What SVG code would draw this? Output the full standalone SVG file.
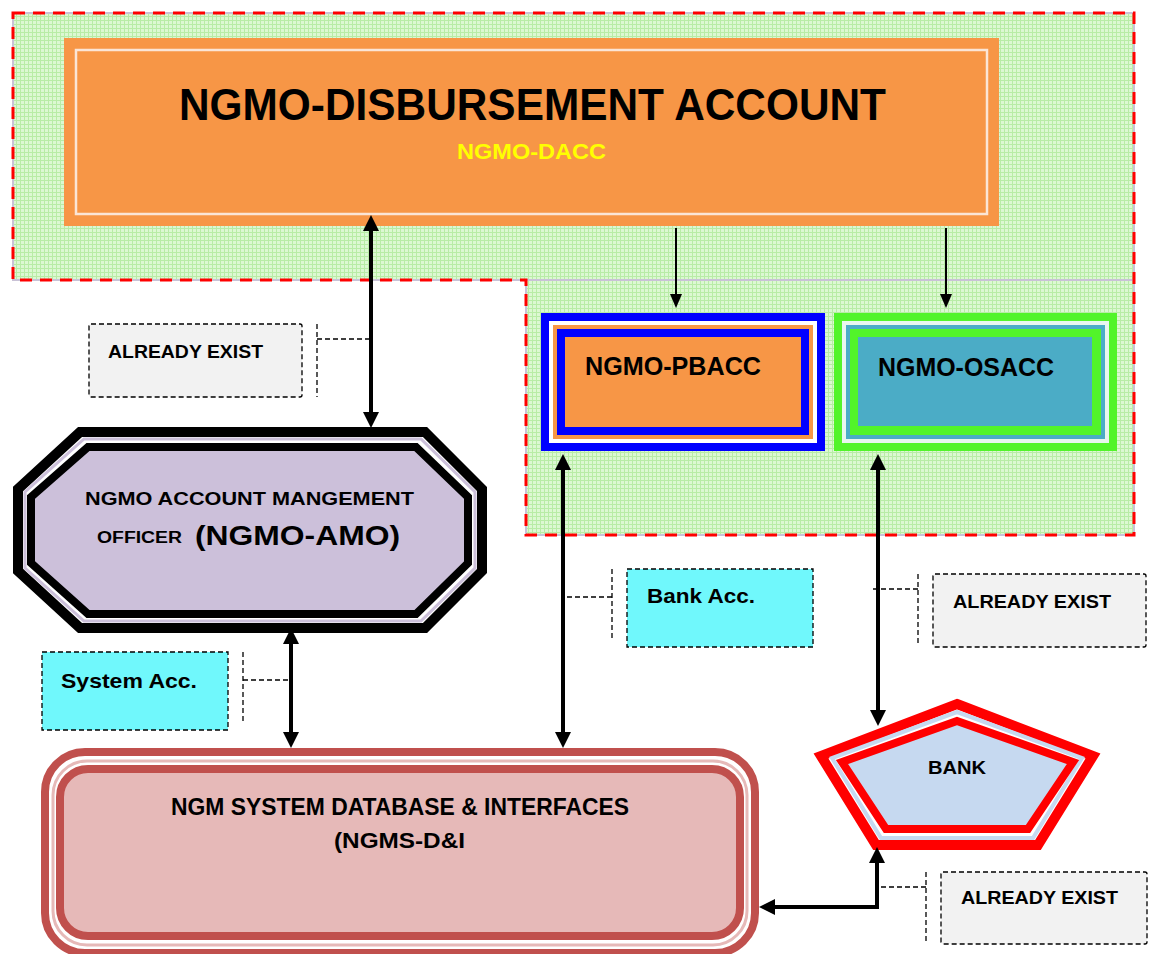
<svg xmlns="http://www.w3.org/2000/svg" width="1149" height="954" viewBox="0 0 1149 954">
<defs>
<pattern id="grid" width="4" height="4" patternUnits="userSpaceOnUse">
<rect width="4" height="4" fill="#dcf8d2"/>
<rect width="4" height="1" fill="#b8eca6"/>
<rect width="1" height="4" fill="#b8eca6"/>
</pattern>
<marker id="ah" viewBox="0 0 16 16" refX="8" refY="8" markerWidth="16" markerHeight="16" markerUnits="userSpaceOnUse" orient="auto-start-reverse"><path d="M0,0 L16,8 L0,16 Z" fill="#000"/></marker>
<marker id="ahs" viewBox="0 0 14 12" refX="7" refY="6" markerWidth="14" markerHeight="12" markerUnits="userSpaceOnUse" orient="auto-start-reverse"><path d="M0,0 L14,6 L0,12 Z" fill="#000"/></marker>
</defs>
<style>
text{font-family:"Liberation Sans",Arial,sans-serif;font-weight:bold;fill:#000}
.call{stroke:#000;stroke-width:1.3;stroke-dasharray:5 3}
.bk{stroke:#000;fill:none}
.thick{stroke-width:4}
.thin{stroke-width:2}
</style>
<rect width="1149" height="954" fill="#fff"/>

<g id="zone">
<path d="M13,13 H1134 V535 H526 V280 H13 Z" fill="url(#grid)" stroke="#c9c2d6" stroke-width="2"/>
<line x1="526" y1="280" x2="1134" y2="280" stroke="#c9c2d6" stroke-width="2"/>
<path d="M13,13 H1134 V535 H526 V280 H13 Z" fill="none" stroke="#ff0000" stroke-width="3" stroke-dasharray="12 8"/>
</g>

<g id="dacc">
<rect x="64" y="38" width="935" height="188" fill="#f79646"/>
<rect x="76" y="50" width="911" height="164" fill="#f79646" stroke="#fbe5d6" stroke-width="2.5"/>
<text x="179" y="120" font-size="44" textLength="707" lengthAdjust="spacingAndGlyphs">NGMO-DISBURSEMENT ACCOUNT</text>
<text x="457" y="159" font-size="22" textLength="149" lengthAdjust="spacingAndGlyphs" style="fill:#ffff00">NGMO-DACC</text>
</g>

<g id="pbacc">
<rect x="541" y="313" width="284" height="138" fill="#0000ff"/>
<rect x="549" y="321" width="268" height="122" fill="#fff"/>
<rect x="553" y="325" width="260" height="114" fill="#f79646"/>
<rect x="557" y="329" width="252" height="106" fill="#0000ff"/>
<rect x="565" y="337" width="236" height="90" fill="#f79646"/>
<text x="585" y="375" font-size="25" textLength="176" lengthAdjust="spacingAndGlyphs">NGMO-PBACC</text>
</g>

<g id="osacc">
<rect x="834" y="313" width="283" height="138" fill="#52f42a"/>
<rect x="842" y="321" width="267" height="122" fill="#e8f6ee"/>
<rect x="846" y="325" width="259" height="114" fill="#4bacc6"/>
<rect x="850" y="329" width="251" height="106" fill="#52f42a"/>
<rect x="858" y="337" width="234" height="89" fill="#4bacc6"/>
<text x="878" y="376" font-size="25" textLength="176" lengthAdjust="spacingAndGlyphs">NGMO-OSACC</text>
</g>

<g id="amo">
<polygon points="80,432 425,432 482,489 482,571 425,628 80,628 18,571 18,489" fill="#fff" stroke="#000" stroke-width="10"/>
<polygon points="84,439 421,439 475,492 475,568 421,621 84,621 25,568 25,492" fill="none" stroke="#ccc0da" stroke-width="3"/>
<polygon points="88,447 416,447 468,497 468,563 416,614 88,614 31,563 31,497" fill="#ccc0da" stroke="#000" stroke-width="8"/>
<text x="85" y="505" font-size="18" textLength="329" lengthAdjust="spacingAndGlyphs">NGMO ACCOUNT MANGEMENT</text>
<text x="97" y="543" font-size="16" textLength="85" lengthAdjust="spacingAndGlyphs">OFFICER</text>
<text x="195" y="545" font-size="27" textLength="205" lengthAdjust="spacingAndGlyphs">(NGMO-AMO)</text>
</g>

<g id="ngms">
<rect x="45" y="752" width="710" height="201" rx="40" fill="#fff" stroke="#c0504d" stroke-width="8"/>
<rect x="53" y="761" width="694" height="184" rx="34" fill="none" stroke="#e6b9b8" stroke-width="3"/>
<rect x="60" y="769" width="680" height="167" rx="28" fill="#e6b9b8" stroke="#c0504d" stroke-width="8"/>
<text x="171" y="815" font-size="23" textLength="458" lengthAdjust="spacingAndGlyphs">NGM SYSTEM DATABASE &amp; INTERFACES</text>
<text x="334" y="848" font-size="22" textLength="131" lengthAdjust="spacingAndGlyphs">(NGMS-D&amp;I</text>
</g>

<g id="bank">
<polygon points="957,704 1093,756 1038,845 876,845 821,756" fill="#fff" stroke="#ff0000" stroke-width="10"/>
<polygon points="957,712 1082,758 1033,838 881,838 832,758" fill="none" stroke="#c6d9f0" stroke-width="4"/>
<polygon points="957,721 1073,762 1028,829 886,829 842,762" fill="#c6d9f0" stroke="#ff0000" stroke-width="8"/>
<text x="928" y="774" font-size="19" textLength="58" lengthAdjust="spacingAndGlyphs">BANK</text>
</g>

<g id="callout-exist-1">
<rect x="89" y="324" width="213" height="73" rx="2" fill="#f2f2f2" class="call"/>
<text x="108" y="358" font-size="18" textLength="155" lengthAdjust="spacingAndGlyphs">ALREADY EXIST</text>
</g>
<g id="callout-bank-acc">
<rect x="627" y="569" width="186" height="78" fill="#70f8fc" class="call"/>
<text x="647" y="603" font-size="20" textLength="108" lengthAdjust="spacingAndGlyphs">Bank Acc.</text>
</g>
<g id="callout-exist-2">
<rect x="933" y="574" width="213" height="73" rx="2" fill="#f2f2f2" class="call"/>
<text x="953" y="608" font-size="18" textLength="158" lengthAdjust="spacingAndGlyphs">ALREADY EXIST</text>
</g>
<g id="callout-exist-3">
<rect x="941" y="872" width="206" height="72" rx="2" fill="#f2f2f2" class="call"/>
<text x="961" y="904" font-size="18" textLength="157" lengthAdjust="spacingAndGlyphs">ALREADY EXIST</text>
</g>
<g id="callout-system-acc">
<rect x="42" y="652" width="186" height="78" fill="#70f8fc" class="call"/>
<text x="61" y="688" font-size="21" textLength="136" lengthAdjust="spacingAndGlyphs">System Acc.</text>
</g>

<g id="connectors">
<path class="call" fill="none" d="M317,324 V397 M317,339 H369"/>
<path class="call" fill="none" d="M612,569 V640 M612,597 H565"/>
<path class="call" fill="none" d="M918,574 V646 M918,589 H872"/>
<path class="call" fill="none" d="M926,872 V944 M926,887 H879"/>
<path class="call" fill="none" d="M243,652 V723 M243,680 H291"/>

<line class="bk thick" x1="371" y1="223" x2="371" y2="420" marker-start="url(#ah)" marker-end="url(#ah)"/>
<line class="bk thin" x1="676" y1="228" x2="676" y2="301" marker-end="url(#ahs)"/>
<line class="bk thin" x1="946" y1="228" x2="946" y2="301" marker-end="url(#ahs)"/>
<line class="bk thick" x1="563" y1="462" x2="563" y2="740" marker-start="url(#ah)" marker-end="url(#ah)"/>
<line class="bk thick" x1="878" y1="462" x2="878" y2="718" marker-start="url(#ah)" marker-end="url(#ah)"/>
<line class="bk thick" x1="291" y1="636" x2="291" y2="740" marker-start="url(#ah)" marker-end="url(#ah)"/>
<polyline class="bk thick" points="767,907 877,907 877,855" marker-start="url(#ah)" marker-end="url(#ah)"/>
</g>
</svg>
